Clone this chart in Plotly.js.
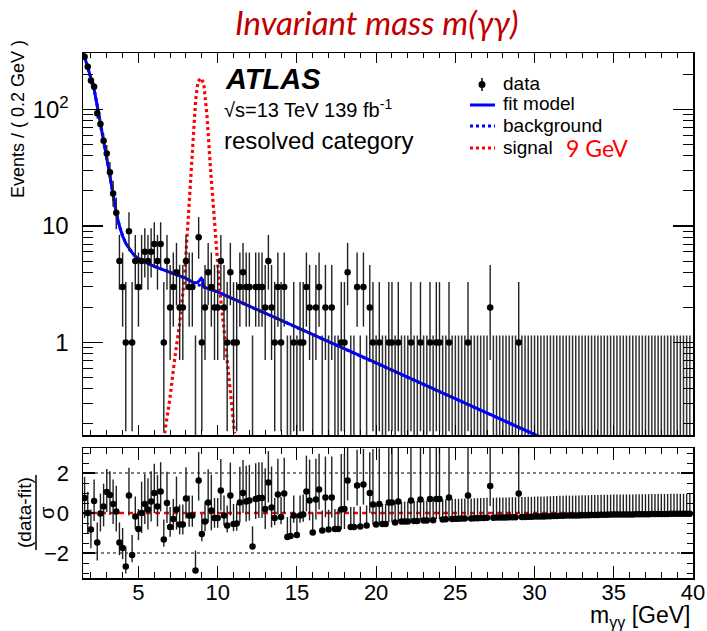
<!DOCTYPE html>
<html>
<head>
<meta charset="utf-8">
<script src="https://cdn.plot.ly/plotly-3.0.1.min.js"></script>
<style>html,body{margin:0;padding:0;background:#fff;}#chart{width:707px;height:631px;}</style>
</head>
<body>
<div id="chart"></div>
<script>
// ---------- data ----------
const binLow = 1.5;      // GeV, lower edge of the first bin
const binWidth = 0.2;    // GeV
const counts = [
 284,233,177,157,93,75,54,42,29,19,
 13,5,3,1,9,1,5,3,5,6,
 5,6,7,5,7,1,5,2,3,4,
 2,2,5,3,3,0,8,1,2,4,
 3,2,2,5,2,1,4,1,1,3,
 4,3,3,0,3,3,3,2,5,2,
 1,3,1,3,0,0,1,0,1,1,
 3,2,0,2,3,0,2,0,2,0,
 0,1,1,4,0,0,3,0,3,0,
 2,1,0,1,0,0,1,1,0,1,
 0,0,0,1,0,0,1,0,0,1,
 0,1,1,0,0,1,0,0,0,0,
 0,1,0,0,0,0,0,0,2,0,
 0,0,0,0,0,0,0,1,0,0,
 0,0,0,0,0,0,0,0,0,0,
 0,0,0,0,0,0,0,0,0,0,
 0,0,0,0,0,0,0,0,0,0,
 0,0,0,0,0,0,0,0,0,0,
 0,0,0,0,0,0,0,0,0,0,
 0,0
];
const pulls = [
 0.75,0.0,-0.83,0.6,-1.47,-0.03,0.33,1.05,0.9,0.45,
 0.08,-1.47,-1.75,-2.67,0.87,-2.1,-0.17,-0.8,0.0,0.45,
 0.17,0.58,1.0,0.33,1.08,-1.33,0.5,-0.7,-0.3,0.17,
 -0.58,-0.58,0.72,-0.13,-0.13,-2.88,1.62,-1.05,-0.42,0.53,
 0.13,-0.25,-0.25,1.13,-0.13,-0.62,0.87,-0.55,-0.53,0.53,
 1.0,0.58,0.62,-1.67,0.7,0.75,0.75,0.2,1.53,0.28,
 -0.25,0.92,-0.2,0.97,-1.2,-1.15,-0.13,-1.1,-0.13,-0.08,
 1.08,0.63,-0.97,0.67,1.17,-0.88,0.78,-0.83,0.78,-0.8,
 -0.8,0.17,0.2,1.63,-0.7,-0.7,1.37,-0.67,1.42,-0.62,
 1.0,0.42,-0.58,0.45,-0.55,-0.55,0.53,0.53,-0.47,0.57,
 -0.43,-0.43,-0.43,0.62,-0.4,-0.4,0.67,-0.37,-0.37,0.7,
 -0.36,0.7,0.7,-0.32,-0.31,0.78,-0.30,-0.29,-0.29,-0.28,
 -0.28,0.87,-0.27,-0.26,-0.26,-0.25,-0.25,-0.24,1.35,-0.24,
 -0.23,-0.23,-0.22,-0.22,-0.21,-0.21,-0.21,0.97,-0.20,-0.20,
 -0.19,-0.19,-0.18,-0.18,-0.17,-0.17,-0.16,-0.16,-0.15,-0.15,
 -0.14,-0.14,-0.13,-0.13,-0.13,-0.12,-0.12,-0.11,-0.11,-0.11,
 -0.10,-0.10,-0.10,-0.09,-0.09,-0.09,-0.08,-0.08,-0.08,-0.08,
 -0.07,-0.07,-0.07,-0.07,-0.06,-0.06,-0.06,-0.06,-0.06,-0.05,
 -0.05,-0.05,-0.05,-0.05,-0.05,-0.04,-0.04,-0.04,-0.04,-0.04,
 -0.04,-0.04
];
// fit model (solid blue)
const fitMass = [1.5,1.6,1.8,2.0,2.2,2.4,2.6,2.8,3.0,3.2,3.4,3.6,3.8,4.0,4.2,4.4,4.6,4.8,5.0,5.5,6.0,7.0,8.0,8.5,8.7,8.85,8.97,9.05,9.12,9.3,10,20,31];
const fitVal  = [315,285,233,185,150,107,77,54,39,27,18.5,13,10,8.2,7.1,6.4,5.9,5.5,5.25,4.85,4.5,4.0,3.55,3.25,3.25,3.4,3.55,3.45,3.0,2.93,2.72,0.667,0.141];
// background component (dotted blue)
const bkgMass = [1.5,1.6,1.8,2.0,2.2,2.4,2.6,2.8,3.0,3.2,3.4,3.6,3.8,4.0,4.2,4.4,4.6,4.8,5.0,5.5,6.0,7.0,8.0,8.5,9.12,9.3,10,20,31];
const bkgVal  = [315,285,233,185,150,107,77,54,39,27,18.5,13,10,8.2,7.1,6.4,5.9,5.5,5.25,4.85,4.5,4.0,3.55,3.25,3.0,2.93,2.72,0.667,0.141];
// signal 9 GeV (dotted red)
const sigMass = [6.65,6.97,7.28,7.6,7.91,8.06,8.23,8.44,8.61,8.76,8.93,9.12,9.33,9.54,9.75,9.92,10.13,10.38,10.65,10.93,11.07];
const sigVal  = [0.166,0.32,0.71,1.46,3.67,7.6,16.7,45,121,174,186,168,87,32,13.7,7.6,2.8,1.37,0.62,0.28,0.166];
// 68% Poisson intervals for small counts
const poisLo = [0,0.827,1.292,1.633,1.914,2.159,2.379,2.581,2.768,2.943,3.108];
const poisHi = [1.148,2.299,2.637,2.918,3.162,3.382,3.583,3.770,3.945,4.110,4.266];
// ---------- derived ----------
const mass = counts.map((c,i)=> +(binLow + binWidth*(i+0.5)).toFixed(2));
function lo(n){ return n<poisLo.length ? poisLo[n] : Math.sqrt(n); }
function hi(n){ return n<poisHi.length ? poisHi[n] : Math.sqrt(n)+1; }

const dX=[],dY=[],dLo=[],dHi=[],zX=[],zY=[],zLo=[];
counts.forEach((n,i)=>{
  if(n>0){ dX.push(mass[i]); dY.push(n); dLo.push(lo(n)); dHi.push(hi(n)); }
  else { zX.push(mass[i]); zY.push(poisHi[0]); zLo.push(poisHi[0]-0.005); }
});
const pLo=[],pHi=[];
counts.forEach((n,i)=>{
  if(n===0){ pLo.push(0); pHi.push(1); }
  else if(pulls[i]>=0){ pLo.push(1); pHi.push(hi(n)/lo(n)); }
  else { pHi.push(1); pLo.push(lo(n)/hi(n)); }
});

const W=707,H=631;
const PX=p=>p/W, PY=p=>1-p/H;
const FONT='Liberation Sans, Arial, Helvetica, sans-serif';

const traces = [
  {x:zX,y:zY,type:'scatter',mode:'markers',xaxis:'x',yaxis:'y',
   marker:{size:1,color:'rgba(0,0,0,0)'},
   error_y:{type:'data',symmetric:false,array:zX.map(()=>0),arrayminus:zLo,color:'#333',thickness:1.5,width:0},hoverinfo:'skip'},
  {x:bkgMass,y:bkgVal,type:'scatter',mode:'lines',xaxis:'x',yaxis:'y',
   line:{color:'#0000ff',width:3,dash:'3px,3px'}},
  {x:sigMass,y:sigVal,type:'scatter',mode:'lines',xaxis:'x',yaxis:'y',
   line:{color:'#ff0000',width:3.2,dash:'3px,3px'}},
  {x:fitMass,y:fitVal,type:'scatter',mode:'lines',xaxis:'x',yaxis:'y',
   line:{color:'#0000ff',width:3}},
  {x:dX,y:dY,type:'scatter',mode:'markers',xaxis:'x',yaxis:'y',
   marker:{size:6.5,color:'black'},
   error_y:{type:'data',symmetric:false,array:dHi,arrayminus:dLo,color:'#222',thickness:1.4,width:0}},
  {x:mass,y:pulls,type:'scatter',mode:'markers',xaxis:'x2',yaxis:'y2',
   marker:{size:6.5,color:'black'},
   error_y:{type:'data',symmetric:false,array:pHi,arrayminus:pLo,color:'#222',thickness:1.4,width:0}}
];

const minorLog=[0.2,0.3,0.4,0.5,0.6,0.7,0.8,0.9,2,3,4,5,6,7,8,9,20,30,40,50,60,70,80,90,200,300];
const axCommon = {showline:true,linecolor:'black',linewidth:1.5,mirror:'allticks',ticks:'inside',
  tickcolor:'black',tickwidth:1.2,showgrid:false,zeroline:false,tickfont:{family:FONT,size:22,color:'black'}};

const layout = {
  width:W,height:H,autosize:false,margin:{l:0,r:0,t:0,b:0},
  paper_bgcolor:'white',plot_bgcolor:'white',showlegend:false,
  font:{family:FONT,color:'black'},
  xaxis:Object.assign({},axCommon,{domain:[PX(83),PX(693)],anchor:'y',range:[1.5,40],
    showticklabels:false,tick0:0,dtick:5,ticklen:10,
    minor:{dtick:1,tick0:0,ticklen:5,ticks:'inside',tickcolor:'black',tickwidth:1}}),
  yaxis:Object.assign({},axCommon,{domain:[PY(435),PY(53)],anchor:'x',type:'log',range:[-0.794,2.485],
    tickmode:'array',tickvals:[1,10,100],ticktext:['1','10','10<sup>2</sup>'],ticklen:20,ticklabelstandoff:8,
    tickfont:{family:FONT,size:24,color:'black'},
    minor:{tickmode:'array',tickvals:minorLog,ticklen:10,ticks:'inside',tickcolor:'black',tickwidth:1}}),
  xaxis2:Object.assign({},axCommon,{domain:[PX(83),PX(693)],anchor:'y2',range:[1.5,40],
    tick0:0,dtick:5,ticklen:12,ticklabelstandoff:-6,
    minor:{dtick:1,tick0:0,ticklen:6,ticks:'inside',tickcolor:'black',tickwidth:1}}),
  yaxis2:Object.assign({},axCommon,{domain:[PY(578),PY(448)],anchor:'x2',range:[-3.25,3.25],
    tickmode:'array',tickvals:[-2,0,2],ticktext:['\u22122','0','2'],ticklen:12,ticklabelstandoff:8,
    minor:{tickmode:'array',tickvals:[-3,-2.5,-1.5,-1,-0.5,0.5,1,1.5,2.5,3],ticklen:6,ticks:'inside',tickcolor:'black',tickwidth:1}}),
  shapes:[
    {type:'line',xref:'x2',yref:'y2',x0:1.5,x1:40,y0:2,y1:2,line:{color:'black',width:1,dash:'dot'},layer:'below'},
    {type:'line',xref:'x2',yref:'y2',x0:1.5,x1:40,y0:-2,y1:-2,line:{color:'black',width:1,dash:'dot'},layer:'below'},
    {type:'line',xref:'x2',yref:'y2',x0:1.5,x1:40,y0:0,y1:0,line:{color:'#ff0000',width:2.5,dash:'5px,4px'},layer:'below'},
    // legend samples
    {type:'line',xref:'paper',yref:'paper',x0:PX(482),x1:PX(482),y0:PY(78),y1:PY(91),line:{color:'black',width:1.5}},
    {type:'circle',xref:'paper',yref:'paper',x0:PX(478.5),x1:PX(485.5),y0:PY(88),y1:PY(81),fillcolor:'black',line:{color:'black',width:0}},
    {type:'line',xref:'paper',yref:'paper',x0:PX(470),x1:PX(495),y0:PY(105),y1:PY(105),line:{color:'#0000ff',width:3}},
    {type:'line',xref:'paper',yref:'paper',x0:PX(470),x1:PX(495),y0:PY(126),y1:PY(126),line:{color:'#0000ff',width:3,dash:'3px,3px'}},
    {type:'line',xref:'paper',yref:'paper',x0:PX(470),x1:PX(495),y0:PY(148),y1:PY(148),line:{color:'#ff0000',width:3,dash:'3px,3px'}},
    // fraction bar of residual title
    {type:'line',xref:'paper',yref:'paper',x0:PX(36),x1:PX(36),y0:PY(475),y1:PY(550),line:{color:'black',width:1.5}}
  ],
  annotations:[
    {xref:'paper',yref:'paper',x:PX(377),y:PY(22),xanchor:'center',yanchor:'middle',showarrow:false,
     text:'<i>Invariant mass m(γγ)</i>',font:{family:'Lato, Open Sans, sans-serif',size:33,color:'#c00000'}},
    {xref:'paper',yref:'paper',x:PX(223),y:PY(79),xanchor:'left',yanchor:'middle',showarrow:false,
     text:'<b><i>ATLAS</i></b>',font:{family:FONT,size:29,color:'black'}},
    {xref:'paper',yref:'paper',x:PX(222),y:PY(108),xanchor:'left',yanchor:'middle',showarrow:false,
     text:'√s=13 TeV 139 fb<sup>-1</sup>',font:{family:FONT,size:20,color:'black'}},
    {xref:'paper',yref:'paper',x:PX(222),y:PY(141),xanchor:'left',yanchor:'middle',showarrow:false,
     text:'resolved category',font:{family:FONT,size:24,color:'black'}},
    {xref:'paper',yref:'paper',x:PX(501),y:PY(83),xanchor:'left',yanchor:'middle',showarrow:false,
     text:'data',font:{family:FONT,size:19,color:'black'}},
    {xref:'paper',yref:'paper',x:PX(501),y:PY(104),xanchor:'left',yanchor:'middle',showarrow:false,
     text:'fit model',font:{family:FONT,size:19,color:'black'}},
    {xref:'paper',yref:'paper',x:PX(501),y:PY(125),xanchor:'left',yanchor:'middle',showarrow:false,
     text:'background',font:{family:FONT,size:19,color:'black'}},
    {xref:'paper',yref:'paper',x:PX(501),y:PY(147),xanchor:'left',yanchor:'middle',showarrow:false,
     text:'signal',font:{family:FONT,size:19,color:'black'}},
    {xref:'paper',yref:'paper',x:PX(564),y:PY(148),xanchor:'left',yanchor:'middle',showarrow:false,
     text:'9 GeV',font:{family:'Lato, Open Sans, sans-serif',size:23,color:'#ff0000'}},
    {xref:'paper',yref:'paper',x:PX(18),y:PY(119),xanchor:'center',yanchor:'middle',showarrow:false,textangle:-90,
     text:'Events / ( 0.2 GeV )',font:{family:FONT,size:18,color:'black'}},
    {xref:'paper',yref:'paper',x:PX(24),y:PY(513),xanchor:'center',yanchor:'middle',showarrow:false,textangle:-90,
     text:'(data-fit)',font:{family:FONT,size:19,color:'black'}},
    {xref:'paper',yref:'paper',x:PX(47),y:PY(513),xanchor:'center',yanchor:'middle',showarrow:false,textangle:-90,
     text:'σ',font:{family:FONT,size:20,color:'black'}},
    {xref:'paper',yref:'paper',x:PX(692),y:PY(616),xanchor:'right',yanchor:'middle',showarrow:false,
     text:'m<sub>γγ</sub> [GeV]',font:{family:FONT,size:23,color:'black'}}
  ]
};
Plotly.newPlot('chart',traces,layout,{displayModeBar:false,staticPlot:true});
</script>
</body>
</html>
